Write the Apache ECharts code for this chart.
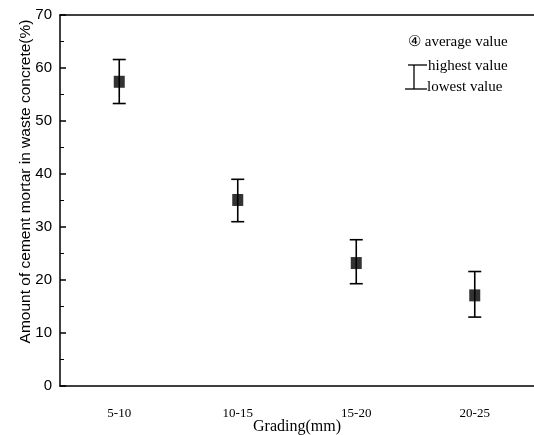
<!DOCTYPE html>
<html>
<head>
<meta charset="utf-8">
<script src="https://cdn.jsdelivr.net/npm/echarts@6/dist/echarts.min.js"></script>
<style>html,body{margin:0;padding:0;background:#fff;}#c{width:534px;height:435px;}</style>
</head>
<body>
<div id="c"></div>
<script>
var categories = ['5-10', '10-15', '15-20', '20-25'];
var averageValues = [57.4, 35.1, 23.2, 17.1];
var highestValues = [61.6, 39.0, 27.6, 21.6];
var lowestValues = [53.3, 31.0, 19.3, 13.0];
var yTicks = [0, 10, 20, 30, 40, 50, 60, 70];

var chart = echarts.init(document.getElementById('c'), null, {renderer: 'canvas'});

var errData = categories.map(function (c, i) { return [i, lowestValues[i], highestValues[i]]; });
var avgData = categories.map(function (c, i) { return [i, averageValues[i]]; });

var serif = 'Liberation Serif';
var sans = 'Liberation Sans';

chart.setOption({
  backgroundColor: '#fff',
  animation: false,
  grid: {left: 60, right: 0, top: 15, bottom: 49, containLabel: false, outerBoundsMode: 'none'},
  xAxis: [{
    type: 'category',
    data: categories,
    boundaryGap: true,
    name: 'Grading(mm)',
    nameLocation: 'middle',
    nameGap: 33,
    nameMoveOverlap: false,
    nameTextStyle: {fontFamily: serif, fontSize: 16, color: '#000'},
    axisLine: {lineStyle: {color: '#000', width: 1.5}},
    axisTick: {alignWithLabel: true, inside: true, length: 6, lineStyle: {color: '#000', width: 1.5}},
    axisLabel: {fontFamily: serif, fontSize: 13, color: '#000', margin: 21},
    splitLine: {show: false}
  }, {
    type: 'category',
    data: categories,
    position: 'top',
    axisLine: {lineStyle: {color: '#000', width: 1.5}},
    axisTick: {show: false},
    axisLabel: {show: false},
    splitLine: {show: false}
  }],
  yAxis: {
    type: 'value',
    min: yTicks[0],
    max: yTicks[yTicks.length - 1],
    interval: 10,
    name: 'Amount of cement mortar in waste concrete(%)',
    nameLocation: 'middle',
    nameGap: 26,
    nameMoveOverlap: false,
    nameTextStyle: {fontFamily: sans, fontSize: 15.5, color: '#000', padding: [0, 0, 0, 38]},
    axisLine: {show: true, lineStyle: {color: '#000', width: 1.5}},
    axisTick: {show: true, inside: true, length: 6, lineStyle: {color: '#000', width: 1.5}},
    minorTick: {show: true, splitNumber: 2, length: 4, lineStyle: {color: '#000', width: 1}},
    axisLabel: {fontFamily: sans, fontSize: 15, color: '#000', margin: 8},
    splitLine: {show: false}
  },
  series: [{
    type: 'custom',
    data: errData,
    renderItem: function (params, api) {
      var x = api.value(0);
      var lo = api.coord([x, api.value(1)]);
      var hi = api.coord([x, api.value(2)]);
      var hw = 6.5;
      var st = {stroke: '#000', lineWidth: 1.6};
      return {
        type: 'group',
        children: [
          {type: 'line', shape: {x1: lo[0], y1: lo[1], x2: hi[0], y2: hi[1]}, style: st},
          {type: 'line', shape: {x1: lo[0] - hw, y1: lo[1], x2: lo[0] + hw, y2: lo[1]}, style: st},
          {type: 'line', shape: {x1: hi[0] - hw, y1: hi[1], x2: hi[0] + hw, y2: hi[1]}, style: st}
        ]
      };
    },
    z: 2
  }, {
    type: 'scatter',
    data: avgData,
    symbol: 'rect',
    symbolSize: [11, 12],
    itemStyle: {color: '#000'},
    z: 3
  }],
  graphic: [
    {type: 'text', left: 408, top: 35, style: {text: '④ average value', fontFamily: serif, fontSize: 15, fill: '#000'}},
    {type: 'text', left: 428, top: 59, style: {text: 'highest value', fontFamily: serif, fontSize: 15, fill: '#000'}},
    {type: 'text', left: 427, top: 80, style: {text: 'lowest value', fontFamily: serif, fontSize: 15, fill: '#000'}},
    {type: 'line', shape: {x1: 414, y1: 65, x2: 414, y2: 89}, style: {stroke: '#000', lineWidth: 1.3}},
    {type: 'line', shape: {x1: 408, y1: 65, x2: 427, y2: 65}, style: {stroke: '#000', lineWidth: 1.3}},
    {type: 'line', shape: {x1: 405, y1: 89, x2: 427, y2: 89}, style: {stroke: '#000', lineWidth: 1.3}}
  ]
});
</script>
</body>
</html>
